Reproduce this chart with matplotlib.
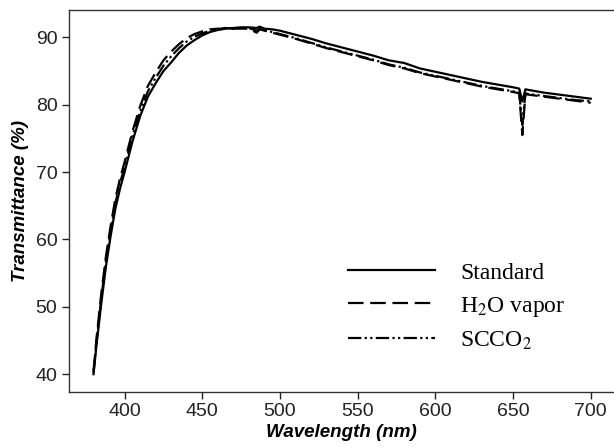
import matplotlib
matplotlib.use("Agg")
import matplotlib.pyplot as plt

plt.rcParams["mathtext.fontset"] = "stix"

wavelength = [380, 382, 385, 388, 391, 394, 397, 400, 405, 410, 415, 420, 425, 430, 435, 440,
              445, 450, 455, 460, 465, 470, 475, 480, 485, 487, 490, 495, 500, 510, 520, 530,
              540, 550, 560, 570, 580, 590, 600, 610, 620, 630, 640, 650, 654, 656, 658, 660,
              670, 680, 690, 700]

standard = [40.0, 44.5, 50.5, 56.0, 60.5, 64.5, 67.5, 70.0, 74.5, 78.3, 81.2, 83.2, 85.0, 86.3,
            87.7, 88.8, 89.6, 90.3, 90.8, 91.1, 91.3, 91.4, 91.5, 91.5, 91.4, 91.6, 91.3, 91.2,
            91.0, 90.4, 89.8, 89.1, 88.5, 87.9, 87.3, 86.6, 86.2, 85.4, 84.9, 84.4, 83.9, 83.4,
            83.0, 82.6, 82.4, 80.5, 82.3, 82.2, 81.8, 81.5, 81.2, 80.9]

h2o_vapor = [40.5, 45.5, 52.0, 57.5, 62.0, 66.0, 69.0, 71.5, 76.0, 79.8, 82.8, 84.8, 86.6, 87.9,
             89.0, 89.9, 90.5, 90.9, 91.2, 91.3, 91.3, 91.3, 91.3, 91.3, 90.7, 91.2, 91.0, 90.7,
             90.4, 89.8, 89.1, 88.4, 87.8, 87.2, 86.6, 85.9, 85.4, 84.7, 84.2, 83.7, 83.2, 82.7,
             82.3, 81.9, 81.7, 75.5, 81.6, 81.5, 81.2, 80.9, 80.6, 80.3]

scco2 = [40.2, 45.0, 51.3, 56.8, 61.2, 65.3, 68.3, 70.8, 75.3, 79.0, 82.0, 84.0, 85.8, 87.2,
         88.4, 89.4, 90.1, 90.6, 91.0, 91.2, 91.4, 91.3, 91.4, 91.4, 91.0, 91.3, 91.1, 90.8,
         90.5, 89.9, 89.2, 88.5, 87.9, 87.3, 86.7, 86.0, 85.5, 84.8, 84.3, 83.8, 83.3, 82.8,
         82.4, 82.0, 81.8, 77.0, 81.7, 81.6, 81.3, 81.0, 80.7, 80.5]

xticks = [400, 450, 500, 550, 600, 650, 700]
yticks = [40, 50, 60, 70, 80, 90]

fig = plt.figure(figsize=(6.14, 4.47), dpi=100)
W, H = 614, 447
ax = fig.add_axes([68.5 / W, 1 - 391.7 / H, (W - 68.5) / W, (391.7 - 9.8) / H])

lw = 1.6
ax.plot(wavelength, standard, color="black", lw=lw, ls="-", label="Standard")
ax.plot(wavelength, h2o_vapor, color="black", lw=lw, ls=(0, (7, 3)), label="H$_\\mathrm{2}$O vapor")
ax.plot(wavelength, scco2, color="black", lw=lw, ls=(0, (6, 1.5, 1, 1.5, 1, 1.5)),
        label="SCCO$_\\mathrm{2}$")

ax.set_xlim(363.9, 715)
ax.set_ylim(37.4, 94.1)
ax.set_xticks(xticks)
ax.set_yticks(yticks)
ax.spines["right"].set_visible(False)
for s in ["left", "bottom", "top"]:
    ax.spines[s].set_linewidth(1.0)
    ax.spines[s].set_color("#333333")
ax.tick_params(direction="out", length=5, width=1, labelsize=14, colors="#222222",
               labelcolor="#222222", pad=3)
for lab in ax.get_xticklabels() + ax.get_yticklabels():
    lab.set_family("Liberation Sans")

ax.set_xlabel("Wavelength (nm)", fontsize=13.5, fontweight="bold", fontstyle="italic",
              family="Liberation Sans", labelpad=3)
ax.set_ylabel("Transmittance (%)", fontsize=13.5, fontweight="bold", fontstyle="italic",
              family="Liberation Sans", labelpad=5)

leg = ax.legend(loc="upper left",
                bbox_to_anchor=((348 - 68.5) / (W - 68.5), 1 - (262 - 9.8) / (391.7 - 9.8)),
                frameon=False, handlelength=3.7, handletextpad=1.05, labelspacing=0.47,
                borderpad=0, borderaxespad=0,
                prop={"family": "Liberation Serif", "size": 17})

fig.savefig("out.png", dpi=100)
